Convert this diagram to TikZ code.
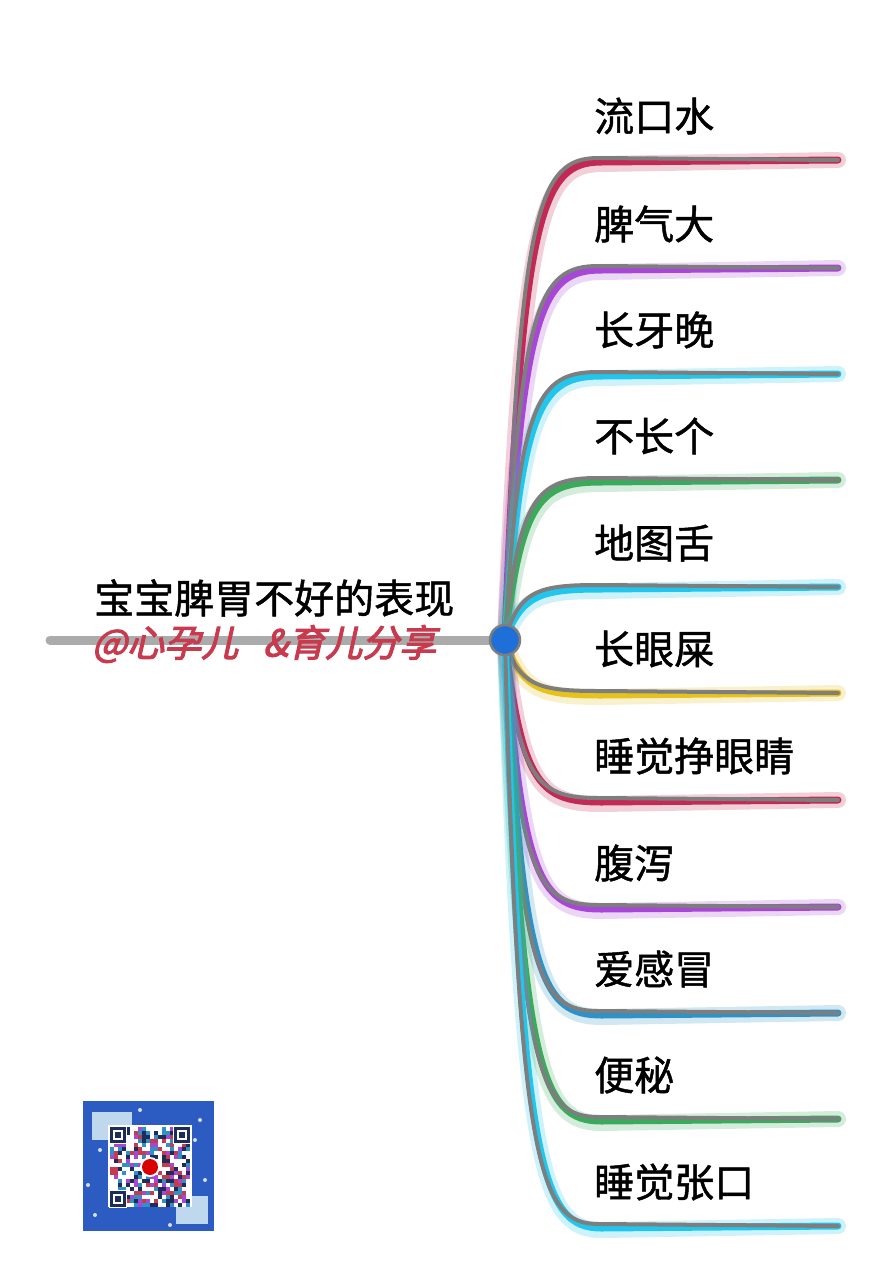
\documentclass[tikz,border=0pt]{standalone}
\usepackage{fontspec}
\newfontfamily\cjk[FakeBold=1.2]{Noto Sans CJK SC}
\newfontfamily\cjkmark[FakeSlant=0.22,FakeBold=3]{Noto Sans CJK SC}
\definecolor{crim}{HTML}{C22A55}
\definecolor{viol}{HTML}{A847D6}
\definecolor{aqua}{HTML}{22C6EC}
\definecolor{leaf}{HTML}{3CAA5C}
\definecolor{gold}{HTML}{E6C21E}
\definecolor{steel}{HTML}{2E92C6}
\definecolor{linegray}{HTML}{7E7E7E}
\definecolor{stemgray}{HTML}{ABABAB}
\definecolor{hubblue}{HTML}{1F6FD8}
\definecolor{wmred}{HTML}{C83A4E}
\definecolor{qrblue}{HTML}{2C5CC2}
\definecolor{qrdark}{HTML}{1E2C5A}
\definecolor{qrice}{HTML}{BFD8EE}

\begin{document}
\begin{tikzpicture}[x=1pt,y=-1pt,
  glow/.style={line width=16pt,opacity=0.22,line cap=round},
  tone/.style={line width=7pt,line cap=round},
  shade/.style={line width=4pt,line cap=round,linegray},
  lbl/.style={anchor=west,inner sep=0pt,font=\cjk\fontsize{40}{42}\selectfont}]
\useasboundingbox[fill=white] (0,0) rectangle (892,1280);
% stem to the hub
\coordinate (hub) at (505,640);
\coordinate (root) at (50,640);
\draw[line width=9pt,line cap=round,stemgray] (root) -- (hub);
% title and watermark
\node[anchor=west,inner sep=0pt,font=\cjk\fontsize{40}{42}\selectfont] (title) at (94,598) {宝宝脾胃不好的表现};
\node[anchor=west,inner sep=0pt,text=wmred,font=\cjkmark\fontsize{37}{39}\selectfont] (mark) at (92,644) {@心孕儿\ \ \ \&育儿分享};
% branches, top to bottom
\foreach \y/\col/\txt [count=\i] in {160/crim/流口水, 268/viol/脾气大, 374/aqua/长牙晚,
    480/leaf/不长个, 587/aqua/地图舌, 693/gold/长眼屎, 800/crim/睡觉挣眼睛,
    907/viol/腹泻, 1013/steel/爱感冒, 1119/leaf/便秘, 1226/aqua/睡觉张口}{
  \coordinate (e\i) at (838,\y);
  \draw[glow,\col,xshift=2pt,yshift=-4pt] (hub) .. controls (520,{\y+0.1*(640-\y)}) and (540,\y) .. (600,\y) -- (e\i);
  \draw[tone,\col,xshift=1.5pt,yshift=-2pt] (hub) .. controls (520,{\y+0.1*(640-\y)}) and (540,\y) .. (600,\y) -- (e\i);
  \draw[shade,xshift=-1.5pt,yshift=2pt] (hub) .. controls (520,{\y+0.1*(640-\y)}) and (540,\y) .. (600,\y) -- (e\i);
  \node[lbl] (t\i) at (594,{\y-44}) {\txt};
}
% hub
\node[circle,minimum size=30pt,inner sep=0pt,fill=hubblue,draw=linegray,line width=2.5pt] (hubdot) at (hub) {};
% qr code badge
\fill[qrblue] (83,1101) rectangle (214,1231);
\fill[qrice] (92,1112) rectangle (132,1140);
\fill[qrice] (176,1196) rectangle (208,1224);
\foreach \p in {(100,1150),(200,1120),(95,1215),(205,1180),(140,1110),(170,1225),(88,1185),(195,1140)}
  \fill[white,opacity=0.8] \p circle (2);
\fill[white] (108,1125) rectangle (192,1207);
\pgfmathsetseed{42}
\foreach \r in {0,...,19}{
  \foreach \c in {0,...,19}{
    \pgfmathrandominteger{\k}{0}{6}
    \ifcase\k
      \fill[qrdark] ({110+4*\c},{1127+4*\r}) rectangle +(4,4);
    \or
      \fill[wmred] ({110+4*\c},{1127+4*\r}) rectangle +(4,4);
    \or
      \fill[steel] ({110+4*\c},{1127+4*\r}) rectangle +(4,4);
    \or
      \fill[viol] ({110+4*\c},{1127+4*\r}) rectangle +(4,4);
    \or\or\or
    \fi
  }
}
\foreach \p in {(110,1127),(174,1127),(110,1191)}{
  \fill[white] \p ++(-1,-1) rectangle +(18,18);
  \draw[qrdark,line width=2.5pt] \p ++(1.5,1.5) rectangle +(13,13);
  \fill[qrdark] \p ++(5,5) rectangle +(6,6);
}
\fill[white] (150,1167) circle (10);
\fill[red!85!black] (150,1167) circle (8);
\end{tikzpicture}
\end{document}
